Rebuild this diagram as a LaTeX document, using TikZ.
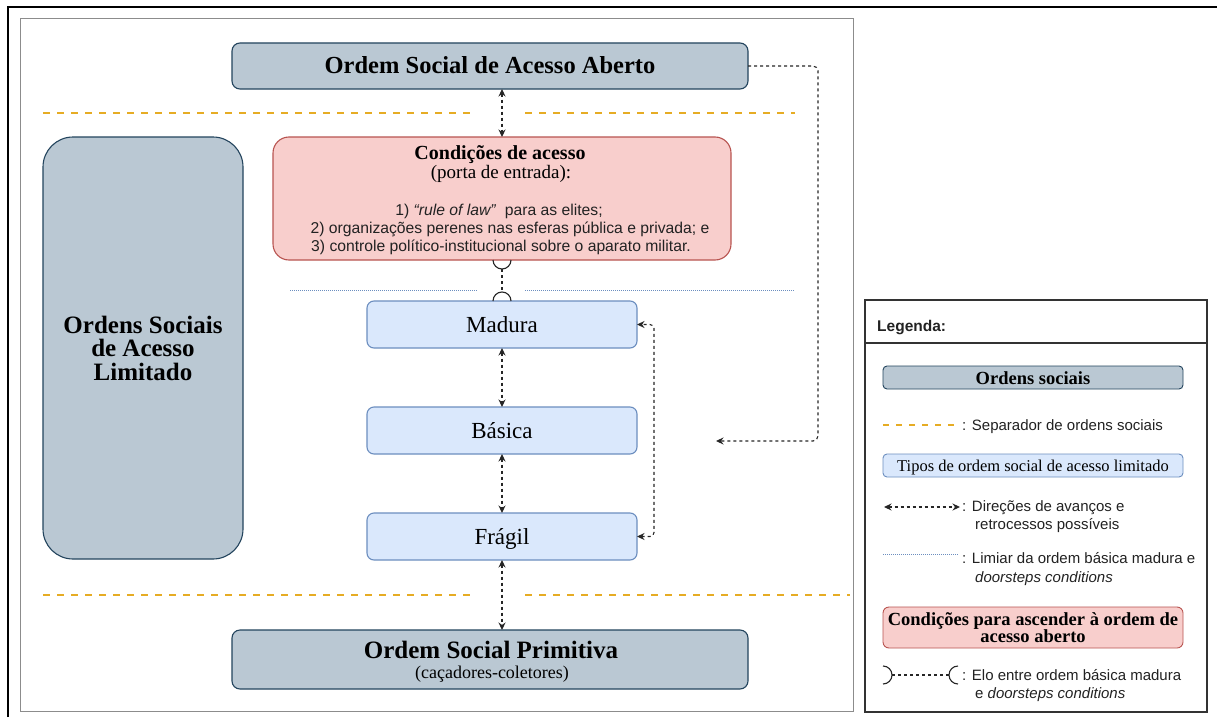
\documentclass[tikz,border=0pt]{standalone}
\usepackage{fontspec}
\setmainfont{Liberation Serif}
\setsansfont{Liberation Sans}
\usetikzlibrary{arrows.meta,calc}
\definecolor{grayfill}{HTML}{BAC8D3}
\definecolor{graydraw}{HTML}{23445D}
\definecolor{pinkfill}{HTML}{F8CECC}
\definecolor{pinkdraw}{HTML}{B85450}
\definecolor{bluefill}{HTML}{DAE8FC}
\definecolor{bluedraw}{HTML}{6C8EBF}
\definecolor{sepcol}{HTML}{E6AC24}
\definecolor{framegray}{HTML}{8C8C8C}
\definecolor{txtgray}{HTML}{222222}
\begin{document}
\begin{tikzpicture}[x=1pt,y=1pt,
  boxbase/.style={inner sep=0pt, outer sep=0pt, line width=1.1pt, text=black},
  graybox/.style={boxbase, draw=graydraw, fill=grayfill, rounded corners=8pt},
  pinkbox/.style={boxbase, draw=pinkdraw, fill=pinkfill, rounded corners=16pt},
  bluebox/.style={boxbase, draw=bluedraw, fill=bluefill, rounded corners=7pt},
  typebox/.style={bluebox, minimum width=270pt, minimum height=47pt,
    font=\fontsize{23}{25}\selectfont, text height=16pt, text depth=0pt},
  sanstext/.style={font=\sffamily\fontsize{15.7}{18}\selectfont, text=txtgray, inner sep=0pt},
  legtext/.style={font=\sffamily\fontsize{15}{17}\selectfont, text=txtgray, inner sep=0pt, anchor=base west},
  dotarrow/.style={black!85, line width=1.1pt, dash pattern=on 3pt off 3pt,
    {Stealth[length=7.5pt,width=7pt]}-{Stealth[length=7.5pt,width=7pt]}},
  sepline/.style={sepcol, line width=2.5pt, dash pattern=on 7pt off 7pt},
  limiar/.style={bluedraw, line width=1pt, dash pattern=on 1pt off 1pt},
  elo/.style={black!85, line width=1.1pt},
  elodash/.style={black!85, line width=1.1pt, dash pattern=on 3pt off 3pt},
]
\useasboundingbox (0,0) rectangle (1217,-717);
\fill[white] (0,0) rectangle (1217,-717);
% outer frame
\draw[black, line width=1.5pt] (8,-717) -- (8,-7) -- (1217,-7);
% inner frame
\draw[framegray, line width=1pt] (20,-19) rectangle (853,-711);

% separators
\draw[sepline] (43,-113) -- (473,-113);
\draw[sepline] (525,-113) -- (795,-113);
\draw[sepline] (43,-595) -- (473,-595);
\draw[sepline] (525,-595) -- (850,-595);

% limiar
\draw[limiar] (290,-290) -- (478,-290);
\draw[limiar] (525,-290) -- (795,-290);

% main boxes
\node[graybox, minimum width=516pt, minimum height=46pt,
  font=\fontsize{24.5}{26}\selectfont\bfseries, text height=16pt, text depth=0pt]
  (aberto) at (490,-66) {Ordem Social de Acesso Aberto};

\node[pinkbox, minimum width=458pt, minimum height=123pt] (cond) at (502,-198.5) {};
\node[anchor=base, inner sep=0pt, font=\fontsize{20}{22}\selectfont\bfseries] (condtitle) at (500,-159) {Condições de acesso};
\node[anchor=base, inner sep=0pt, font=\fontsize{19}{21}\selectfont] (condsub) at (501,-178.5) {(porta de entrada):};
\node[anchor=base, sanstext] (cond1) at (499,-215) {1) \textit{“rule of law”}\ \ para as elites;};
\node[anchor=base, sanstext] (cond2) at (510,-233) {2) organizações perenes nas esferas pública e privada; e};
\node[anchor=base, sanstext] (cond3) at (501,-251) {3) controle político-institucional sobre o aparato militar.};

\node[typebox] (madura) at (502,-324.5) {Madura};
\node[typebox] (basica) at (502,-430.5) {Básica};
\node[typebox] (fragil) at (502,-536.5) {Frágil};

\node[graybox, rounded corners=30pt, minimum width=200pt, minimum height=422pt,
  align=center, font=\fontsize{25}{23.5}\selectfont\bfseries]
  (limitado) at (143,-348) {Ordens Sociais\\de Acesso\\Limitado};

\node[graybox, minimum width=516pt, minimum height=59pt] (primitiva) at (490,-659.5) {};
\node[anchor=base, inner sep=0pt, font=\fontsize{25}{27}\selectfont\bfseries] (primtitle) at (491,-658) {Ordem Social Primitiva};
\node[anchor=base, inner sep=0pt, font=\fontsize{18}{20}\selectfont] (primsub) at (492,-678) {(caçadores-coletores)};

% vertical connectors
\draw[dotarrow] (aberto.south -| cond.north) -- (cond.north);
\draw[dotarrow] (madura.south) -- (basica.north);
\draw[dotarrow] (basica.south) -- (fragil.north);
\draw[dotarrow] (fragil.south) -- (fragil.south |- primitiva.north);

% elo between conditions and madura
\draw[elo] ($(cond.south)+(-9,0)$) arc[start angle=180, end angle=360, radius=9pt];
\draw[elo] ($(madura.north)+(9,0)$) arc[start angle=0, end angle=180, radius=9pt];
\draw[elodash] ($(cond.south)+(0,-9)$) -- ($(madura.north)+(0,9)$);

% side connector fragil-madura
\draw[dotarrow, rounded corners=4pt] (fragil.east) -- ++(17,0) |- (madura.east);

% connector from aberto
\coordinate (aend) at (716,-441);
\draw[black!85, line width=1.1pt, dash pattern=on 3pt off 3pt, rounded corners=5pt,
  -{Stealth[length=7.5pt,width=7pt]}] (aberto.east) -| (818,-300) |- (aend);

% legend
\node[draw=black!80, line width=1.6pt, fill=white, minimum width=342pt, minimum height=412pt,
  inner sep=0pt, outer sep=0pt] (legend) at (1036,-506) {};
\coordinate (lhl) at (865,-343);
\coordinate (lhr) at (1207,-343);
\draw[black!80, line width=1.6pt] (lhl) -- (lhr);
\node[anchor=base west, inner sep=0pt, font=\sffamily\bfseries\fontsize{15.5}{17}\selectfont, text=txtgray]
  (legtitle) at (877,-331) {Legenda:};

\node[graybox, rounded corners=4pt, line width=0.9pt, minimum width=300pt, minimum height=23pt,
  font=\fontsize{18.5}{20}\selectfont\bfseries, text height=13pt, text depth=0pt]
  (legsocial) at (1033,-377.5) {Ordens sociais};

\coordinate (lsa) at (883,-425);
\coordinate (lsb) at (960,-425);
\draw[sepline, line width=2.2pt, dash pattern=on 6pt off 7pt] (lsa) -- (lsb);
\node[legtext] (lt1) at (962,-430) {: Separador de ordens sociais};

\node[bluebox, rounded corners=4pt, line width=0.9pt, minimum width=300pt, minimum height=23pt,
  font=\fontsize{16.5}{18}\selectfont, text height=11pt, text depth=0pt]
  (legtipos) at (1033,-465.5) {Tipos de ordem social de acesso limitado};

\coordinate (laa) at (884,-507);
\coordinate (lab) at (960,-507);
\draw[dotarrow] (laa) -- (lab);
\node[legtext] (lt2) at (962,-511) {: Direções de avanços e};
\node[legtext] (lt2b) at (975,-529) {retrocessos possíveis};

\coordinate (lla) at (883,-554);
\coordinate (llb) at (959,-554);
\draw[limiar] (lla) -- (llb);
\node[legtext] (lt3) at (962,-563) {: Limiar da ordem básica madura e};
\node[legtext] (lt3b) at (975,-582) {\textit{doorsteps conditions}};

\node[pinkbox, rounded corners=6pt, line width=0.9pt, minimum width=300pt, minimum height=41pt,
  align=center, font=\fontsize{18.5}{17.5}\selectfont\bfseries]
  (legcond) at (1033,-627.5) {Condições para ascender à ordem de\\acesso aberto};

\coordinate (lea) at (883,-675);
\coordinate (leb) at (958,-675);
\draw[elo] ($(lea)+(0,9)$) arc[start angle=90, end angle=-90, radius=9pt];
\draw[elo] ($(leb)+(0,9)$) arc[start angle=90, end angle=270, radius=9pt];
\draw[elodash] ($(lea)+(9,0)$) -- ($(leb)+(-9,0)$);
\node[legtext] (lt4) at (962,-680) {: Elo entre ordem básica madura};
\node[legtext] (lt4b) at (975,-698) {e \textit{doorsteps conditions}};
\end{tikzpicture}
\end{document}
